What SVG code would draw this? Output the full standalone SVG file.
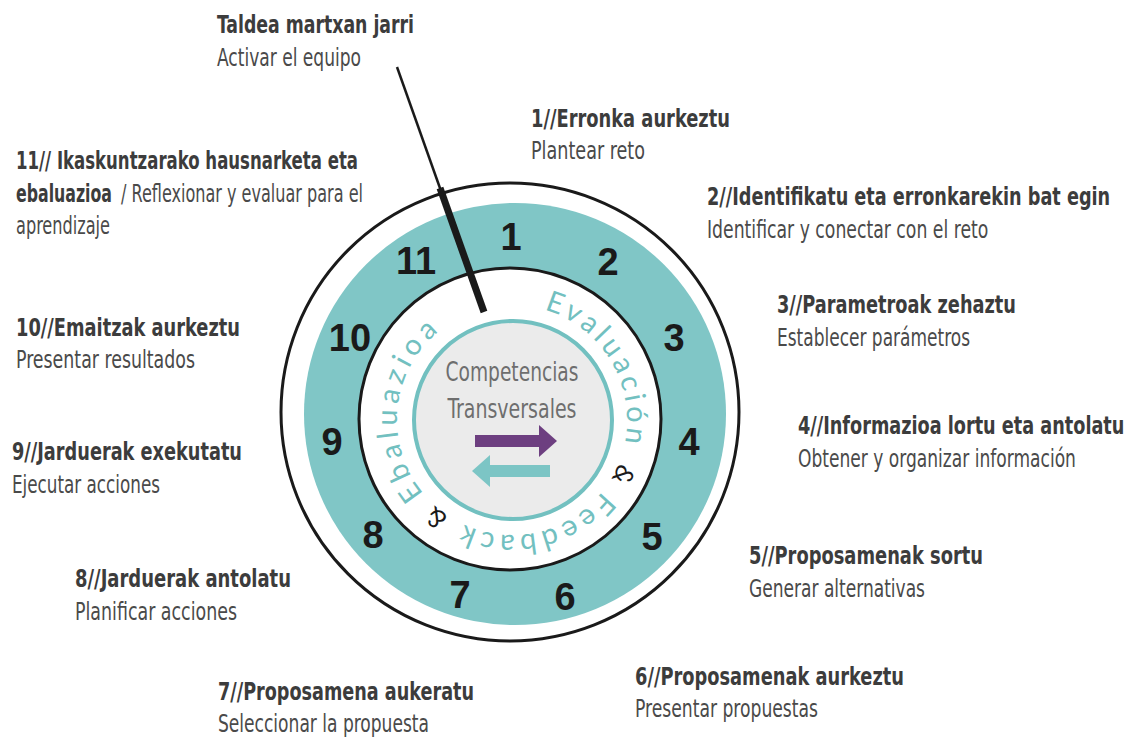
<svg xmlns="http://www.w3.org/2000/svg" width="1134" height="738" viewBox="0 0 1134 738">
<defs>
<style>
.b{font-family:"DejaVu Sans Condensed","Liberation Sans",sans-serif;font-stretch:condensed;font-weight:bold;font-size:24px;fill:#3c3c3c}
.r{font-family:"DejaVu Sans Condensed","Liberation Sans",sans-serif;font-stretch:condensed;font-size:24px;fill:#4a4a4a}
.n{font-family:"Liberation Sans",Arial,sans-serif;font-weight:bold;font-size:38px;fill:#1a1a1a;text-anchor:middle}
.ring{font-family:Lato,"Noto Sans",sans-serif;font-size:29px;fill:#72c0c0}
.amp{font-family:Lato,"Noto Sans",sans-serif;font-size:26px;fill:#1a1a1a}
.c{font-family:"DejaVu Sans Condensed","Liberation Sans",sans-serif;font-stretch:condensed;font-size:27px;fill:#6e6e6e;text-anchor:middle}
</style>
<path id="ringPath" d="M512,305 A115,115 0 1,1 512,535 A115,115 0 1,1 512,305"/>
</defs>
<rect width="1134" height="738" fill="#ffffff"/>

<g id="wheel">
<circle cx="510" cy="412" r="229" fill="#ffffff" stroke="#1a1a1a" stroke-width="3"/>
<circle cx="515" cy="414" r="211" fill="#80c6c6"/>
<circle cx="510" cy="419" r="151" fill="#ffffff" stroke="#1a1a1a" stroke-width="3"/>
<circle cx="513" cy="420" r="99" fill="#ebebeb" stroke="#72c0c0" stroke-width="4"/>
</g>

<g id="numbers">
<text class="n" x="511" y="250">1</text>
<text class="n" x="608" y="275">2</text>
<text class="n" x="674" y="351">3</text>
<text class="n" x="689" y="455">4</text>
<text class="n" x="652" y="550">5</text>
<text class="n" x="565" y="610">6</text>
<text class="n" x="460" y="608">7</text>
<text class="n" x="373" y="548">8</text>
<text class="n" x="332" y="455">9</text>
<text class="n" x="350" y="351">10</text>
<text class="n" x="416" y="274">11</text>
</g>

<g id="ring-text">
<text class="ring"><textPath href="#ringPath" startOffset="118" text-anchor="middle" textLength="171" lengthAdjust="spacing">Evaluación</textPath></text>
<text class="amp"><textPath href="#ringPath" startOffset="233" text-anchor="middle">&amp;</textPath></text>
<text class="ring"><textPath href="#ringPath" startOffset="334" text-anchor="middle" textLength="153" lengthAdjust="spacing">Feedback</textPath></text>
<text class="amp"><textPath href="#ringPath" startOffset="437" text-anchor="middle">&amp;</textPath></text>
<text class="ring"><textPath href="#ringPath" startOffset="552" text-anchor="middle" textLength="181" lengthAdjust="spacing">Ebaluazioa</textPath></text>
</g>

<g id="center">
<text class="c" x="512" y="381" textLength="133" lengthAdjust="spacingAndGlyphs">Competencias</text>
<text class="c" x="512" y="418" textLength="129" lengthAdjust="spacingAndGlyphs">Transversales</text>
<path d="M475,435 H539 V425 L557,441 L539,457 V447 H475 Z" fill="#6d3f80"/>
<path d="M550,465 H490 V455 L472,471 L490,487 V477 H550 Z" fill="#7cc5c5"/>
</g>

<g id="connectors">
<line x1="397" y1="67" x2="441" y2="191" stroke="#1a1a1a" stroke-width="2.5"/>
<line x1="440" y1="188" x2="484" y2="312" stroke="#1a1a1a" stroke-width="7"/>
</g>

<g id="label-0">
<text class="b" x="217" y="33" textLength="197" lengthAdjust="spacingAndGlyphs">Taldea martxan jarri</text>
<text class="r" x="217" y="66" textLength="144" lengthAdjust="spacingAndGlyphs">Activar el equipo</text>
</g>
<g id="label-1">
<text class="b" x="531" y="127" textLength="199" lengthAdjust="spacingAndGlyphs">1//Erronka aurkeztu</text>
<text class="r" x="531" y="159" textLength="114" lengthAdjust="spacingAndGlyphs">Plantear reto</text>
</g>
<g id="label-2">
<text class="b" transform="translate(707,205) scale(0.8,1)" x="0" y="0" textLength="504" lengthAdjust="spacingAndGlyphs">2//Identifikatu eta erronkarekin bat egin</text>
<text class="r" transform="translate(707,238) scale(0.85,1)" x="0" y="0" textLength="331" lengthAdjust="spacingAndGlyphs">Identificar y conectar con el reto</text>
</g>
<g id="label-3">
<text class="b" x="777" y="313" textLength="239" lengthAdjust="spacingAndGlyphs">3//Parametroak zehaztu</text>
<text class="r" x="777" y="346" textLength="193" lengthAdjust="spacingAndGlyphs">Establecer parámetros</text>
</g>
<g id="label-4">
<text class="b" transform="translate(798,434) scale(0.8,1)" x="0" y="0" textLength="408" lengthAdjust="spacingAndGlyphs">4//Informazioa lortu eta antolatu</text>
<text class="r" transform="translate(798,467) scale(0.85,1)" x="0" y="0" textLength="327" lengthAdjust="spacingAndGlyphs">Obtener y organizar información</text>
</g>
<g id="label-5">
<text class="b" x="749" y="564" textLength="234" lengthAdjust="spacingAndGlyphs">5//Proposamenak sortu</text>
<text class="r" x="749" y="597" textLength="176" lengthAdjust="spacingAndGlyphs">Generar alternativas</text>
</g>
<g id="label-6">
<text class="b" x="635" y="685" textLength="269" lengthAdjust="spacingAndGlyphs">6//Proposamenak aurkeztu</text>
<text class="r" x="635" y="717" textLength="183" lengthAdjust="spacingAndGlyphs">Presentar propuestas</text>
</g>
<g id="label-7">
<text class="b" x="218" y="700" textLength="256" lengthAdjust="spacingAndGlyphs">7//Proposamena aukeratu</text>
<text class="r" x="218" y="732" textLength="211" lengthAdjust="spacingAndGlyphs">Seleccionar la propuesta</text>
</g>
<g id="label-8">
<text class="b" x="75" y="587" textLength="216" lengthAdjust="spacingAndGlyphs">8//Jarduerak antolatu</text>
<text class="r" x="75" y="620" textLength="162" lengthAdjust="spacingAndGlyphs">Planificar acciones</text>
</g>
<g id="label-9">
<text class="b" x="12" y="460" textLength="230" lengthAdjust="spacingAndGlyphs">9//Jarduerak exekutatu</text>
<text class="r" x="12" y="493" textLength="148" lengthAdjust="spacingAndGlyphs">Ejecutar acciones</text>
</g>
<g id="label-10">
<text class="b" x="16" y="336" textLength="224" lengthAdjust="spacingAndGlyphs">10//Emaitzak aurkeztu</text>
<text class="r" x="16" y="368" textLength="179" lengthAdjust="spacingAndGlyphs">Presentar resultados</text>
</g>
<g id="label-11">
<text class="b" x="16" y="169" textLength="342" lengthAdjust="spacingAndGlyphs">11// Ikaskuntzarako hausnarketa eta</text>
<text class="b" x="16" y="202" textLength="96" lengthAdjust="spacingAndGlyphs">ebaluazioa</text>
<text class="r" x="121" y="202" textLength="242" lengthAdjust="spacingAndGlyphs">/ Reflexionar y evaluar para el</text>
<text class="r" x="16" y="234" textLength="94" lengthAdjust="spacingAndGlyphs">aprendizaje</text>
</g>
</svg>
